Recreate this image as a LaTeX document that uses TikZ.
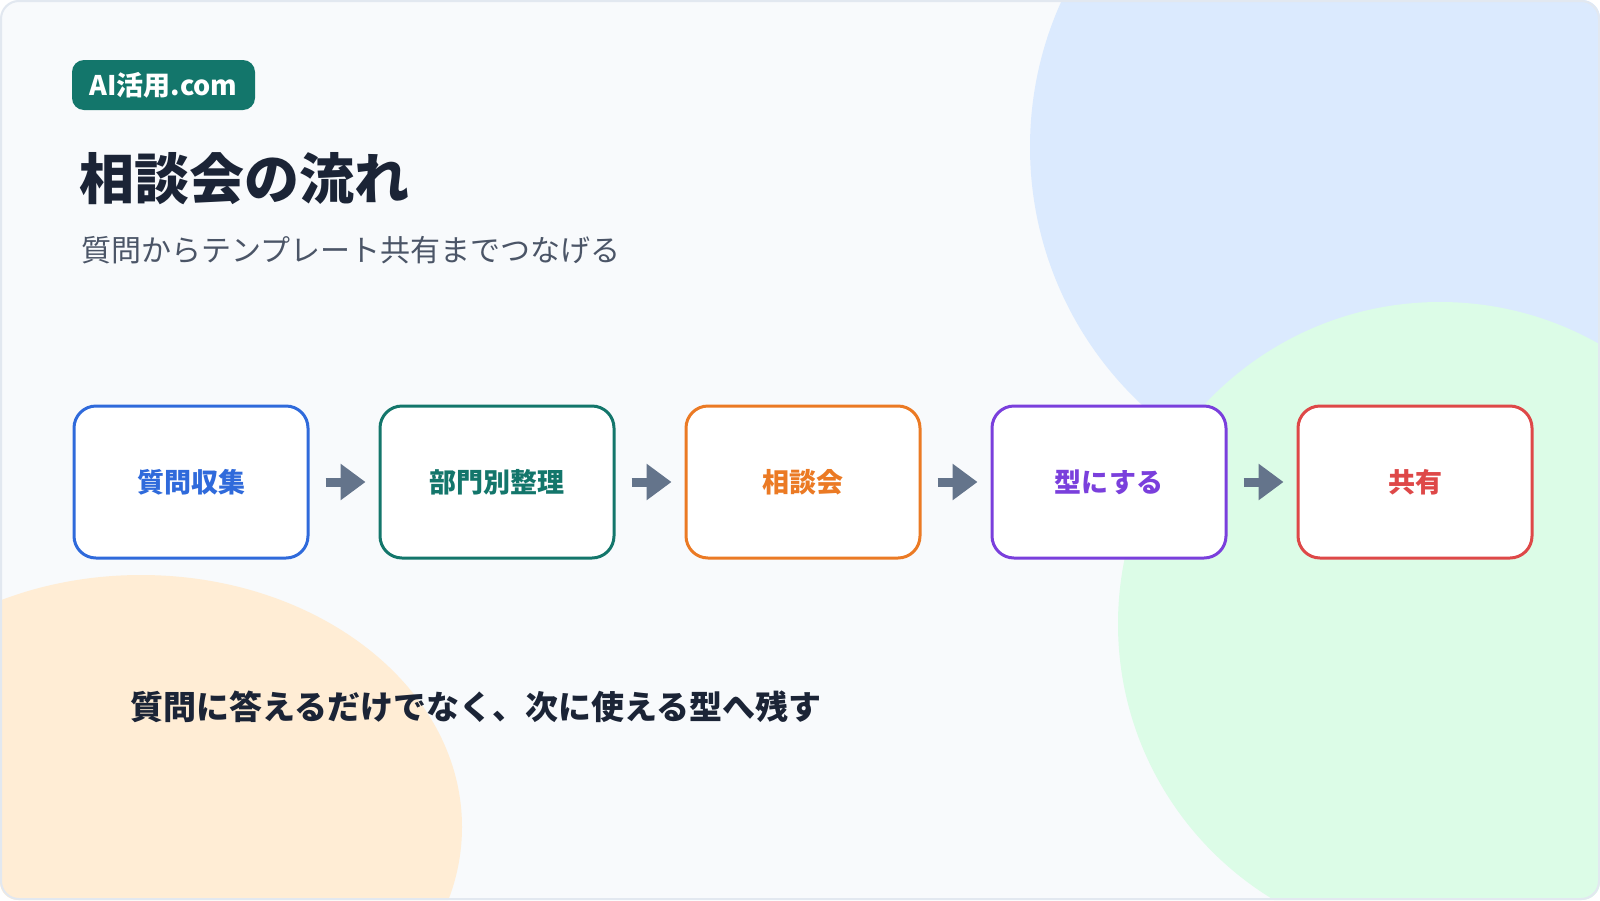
\documentclass[tikz,border=0pt]{standalone}
\usepackage{fontspec}
\setmainfont{Noto Sans CJK JP}
\usetikzlibrary{positioning,arrows.meta}

\definecolor{slidebg}{HTML}{F8FAFC}
\definecolor{framegray}{HTML}{E2E8F0}
\definecolor{blobblue}{HTML}{DBEAFE}
\definecolor{blobgreen}{HTML}{DCFCE7}
\definecolor{blobpeach}{HTML}{FFEDD5}
\definecolor{badgeteal}{HTML}{13766B}
\definecolor{titleink}{HTML}{1B2436}
\definecolor{subgray}{HTML}{4B5567}
\definecolor{stepblue}{HTML}{2F6ADB}
\definecolor{stepteal}{HTML}{13766B}
\definecolor{steporange}{HTML}{EB7A24}
\definecolor{steppurple}{HTML}{7A3FDC}
\definecolor{stepred}{HTML}{DE4848}
\definecolor{arrowgray}{HTML}{64748B}

\begin{document}
\begin{tikzpicture}[x=1pt, y=-1pt, node distance=306pt,
  stepbox/.style={draw, rectangle, rounded corners=22pt, fill=white, line width=3pt, minimum width=234pt, minimum height=152pt, font=\fontsize{27}{30}\selectfont\bfseries},
  flowarrow/.style={-{Triangle[length=25pt,width=35pt]}, line width=9pt, draw=arrowgray, shorten <=16pt, shorten >=13pt}]
\useasboundingbox (0,0) rectangle (1600,900);
% background and blobs
\begin{scope}
\clip[rounded corners=18pt] (0,0) rectangle (1600,900);
\fill[slidebg] (0,0) rectangle (1600,900);
\fill[blobblue] (1383,147) circle (353);
\fill[blobgreen] (1440,624) circle (322);
\fill[blobpeach] (141,827) ellipse (321 and 252);
\end{scope}
\draw[framegray, line width=2pt, rounded corners=18pt] (1,1) rectangle (1599,899);
% header
\node (badge) [fill=badgeteal, rounded corners=12pt, text=white, inner sep=0pt, minimum width=183pt, minimum height=50pt, font=\fontsize{27}{30}\selectfont\bfseries] at (163.5,85) {AI活用.com};
\node (title) [anchor=west, inner sep=0pt, text=titleink, font=\fontsize{55}{60}\selectfont\bfseries] at (79,179) {相談会の流れ};
\node (subtitle) [anchor=west, inner sep=0pt, text=subgray, font=\fontsize{30}{34}\selectfont] at (81,250) {質問からテンプレート共有までつなげる};
% steps
\node (collect) [stepbox, draw=stepblue, text=stepblue] at (191,482) {質問収集};
\node (sort) [stepbox, draw=stepteal, text=stepteal, right of=collect] {部門別整理};
\node (meeting) [stepbox, draw=steporange, text=steporange, right of=sort] {相談会};
\node (template) [stepbox, draw=steppurple, text=steppurple, right of=meeting] {型にする};
\node (share) [stepbox, draw=stepred, text=stepred, right of=template] {共有};
\draw[flowarrow] (collect) -- (sort);
\draw[flowarrow] (sort) -- (meeting);
\draw[flowarrow] (meeting) -- (template);
\draw[flowarrow] (template) -- (share);
% takeaway
\node (takeaway) [anchor=west, inner sep=0pt, text=titleink, font=\fontsize{33}{38}\selectfont\bfseries] at (130,707) {質問に答えるだけでなく、次に使える型へ残す};
\end{tikzpicture}
\end{document}
